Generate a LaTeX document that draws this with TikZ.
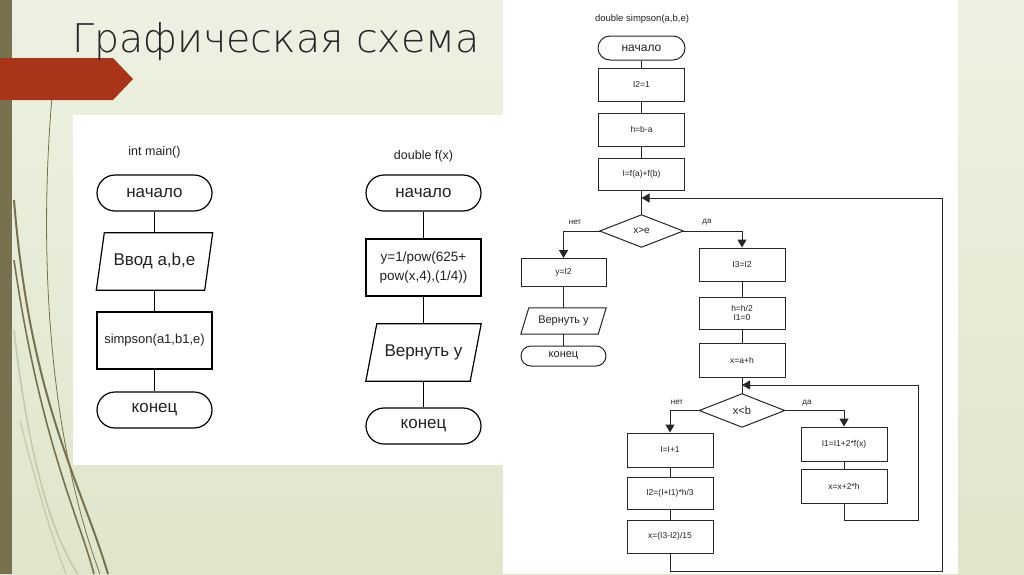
\documentclass[tikz,border=0pt]{standalone}
\usepackage{fontspec}
\setmainfont{Liberation Sans}
\IfFontExistsTF{DejaVu Sans ExtraLight}{\newfontfamily\titlefont{DejaVu Sans ExtraLight}}{\newfontfamily\titlefont{DejaVu Sans}}
\usetikzlibrary{arrows.meta,shapes.misc}
\definecolor{bgtop}{HTML}{EEF1E2}
\definecolor{bgbot}{HTML}{DFE6CB}
\definecolor{olive}{HTML}{78714F}
\definecolor{oliveL}{HTML}{C3CBAA}
\definecolor{redarr}{HTML}{A8341A}
\definecolor{titlegray}{HTML}{262626}
\definecolor{txt}{HTML}{222222}
\newcommand{\iopath}[3][]{\draw[#1] ([xshift=#3]#2.north west) -- (#2.north east) -- ([xshift=-#3]#2.south east) -- (#2.south west) -- cycle;}
\newcommand{\diapath}[2][]{\draw[#1] (#2.west) -- (#2.north) -- (#2.east) -- (#2.south) -- cycle;}
\begin{document}
\begin{tikzpicture}[x=1pt,y=-1pt,
  lnA/.style={draw=black,line width=1.2pt},
  lnB/.style={draw=black!85,line width=1pt},
  boxA/.style={lnA,rectangle,fill=white,inner sep=0pt,align=center,text=txt},
  termA/.style={lnA,rounded rectangle,fill=white,inner sep=0pt,align=center,text=txt},
  ioA/.style={inner sep=0pt,align=center,text=txt},
  boxB/.style={lnB,rectangle,fill=white,inner sep=0pt,align=center,text=txt,font=\fontsize{8.5}{10}\selectfont,minimum width=86pt},
  termB/.style={lnB,rounded rectangle,fill=white,inner sep=0pt,align=center,text=txt,minimum width=86pt},
  ioB/.style={inner sep=0pt,align=center,text=txt,minimum width=86pt},
  dia/.style={inner sep=0pt,align=center,text=txt},
  lbl/.style={inner sep=0pt,text=txt,font=\fontsize{8}{9}\selectfont},
  arr/.style={-{Triangle[width=9pt,length=8pt]}},
  conA/.style={lnA},
  conB/.style={lnB}]
\useasboundingbox (0,0) rectangle (1024,574);
% background
\shade[top color=bgtop,bottom color=bgbot] (0,0) rectangle (1024,574);
\fill[olive] (0,0) rectangle (12,574);
% decorative curves
\draw[oliveL,line width=1.6pt] (14,330) .. controls (30,470) and (55,540) .. (78,574);
\draw[oliveL,line width=1.2pt] (20,420) .. controls (40,500) and (55,545) .. (66,574);
\draw[olive,line width=0.8pt] (52,97) .. controls (38,260) and (50,440) .. (100,574);
\draw[olive,line width=2pt] (14,200) .. controls (30,400) and (80,480) .. (108,574);
\draw[olive,line width=1.6pt] (14,260) .. controls (40,440) and (80,520) .. (94,574);
% red arrow
\fill[redarr] (0,58) -- (113,58) -- (133,79) -- (113,100) -- (0,100) -- cycle;
% title
\node[anchor=base west,inner sep=0pt,text=titlegray,font=\titlefont\fontsize{39.5}{42}\selectfont] (title) at (72,52) {Графическая схема};
% white panels
\fill[white] (73,115) rectangle (503,465);
\fill[white] (503,0) rectangle (958,574);

% ---------- int main()
\node[ioA,font=\fontsize{12.5}{14}\selectfont] (mh) at (154.5,152) {int main()};
\node[termA,minimum width=115pt,minimum height=36pt,font=\fontsize{17}{19}\selectfont] (m1) at (154.5,193) {начало};
\node[ioA,minimum width=116pt,minimum height=57pt,font=\fontsize{17}{19}\selectfont] (m2) at (154.5,261.5) {Ввод a,b,e};
\node[boxA,minimum width=115pt,minimum height=57pt,font=\fontsize{13}{15}\selectfont] (m3) at (154.5,340.5) {simpson(a1,b1,e)};
\node[termA,minimum width=115pt,minimum height=36pt,font=\fontsize{17}{19}\selectfont] (m4) at (154.5,410) {конец};
\iopath[lnA]{m2}{8pt}
\draw[conA] (m1.south) -- (m2.north);
\draw[conA] (m2.south) -- (m3.north);
\draw[conA] (m3.south) -- (m4.north);

% ---------- double f(x)
\node[ioA,font=\fontsize{12.5}{14}\selectfont] (fh) at (423.5,156) {double f(x)};
\node[termA,minimum width=115pt,minimum height=36pt,font=\fontsize{17}{19}\selectfont] (f1) at (423.5,193) {начало};
\node[boxA,minimum width=115pt,minimum height=57pt,font=\fontsize{13.5}{19}\selectfont] (f2) at (423.5,267.5) {y=1/pow(625+\\pow(x,4),(1/4))};
\node[ioA,minimum width=115pt,minimum height=57pt,font=\fontsize{17}{19}\selectfont] (f3) at (423.5,352.5) {Вернуть y};
\node[termA,minimum width=115pt,minimum height=36pt,font=\fontsize{17}{19}\selectfont] (f4) at (423.5,426) {конец};
\iopath[lnA]{f3}{11pt}
\draw[conA] (f1.south) -- (f2.north);
\draw[conA] (f2.south) -- (f3.north);
\draw[conA] (f3.south) -- (f4.north);

% ---------- double simpson(a,b,e)
\node[ioA,font=\fontsize{9.5}{11}\selectfont] (sh) at (642,19) {double simpson(a,b,e)};
\node[termB,minimum width=87pt,minimum height=24pt,font=\fontsize{12}{14}\selectfont] (s1) at (641.5,48) {начало};
\node[boxB,minimum height=33pt] (s2) at (641.5,84.5) {I2=1};
\node[boxB,minimum height=33pt] (s3) at (641.5,129.5) {h=b-a};
\node[boxB,minimum height=32pt] (s4) at (641.5,174) {I=f(a)+f(b)};
\node[dia,minimum width=83pt,minimum height=32pt,font=\fontsize{10}{12}\selectfont] (d1) at (641.5,231) {x>e};
\diapath[lnB]{d1}
% нет branch
\node[boxB,minimum width=85pt,minimum height=28pt] (n1) at (563.5,272.5) {y=I2};
\node[ioB,minimum width=85pt,minimum height=26pt,font=\fontsize{11}{13}\selectfont] (n2) at (563.5,321) {Вернуть y};
\node[termB,minimum width=85pt,minimum height=20pt,font=\fontsize{11}{13}\selectfont] (n3) at (563.5,356) {конец};
\iopath[lnB]{n2}{8pt}
% да branch
\node[boxB,minimum height=33pt] (y1) at (742,264.5) {I3=I2};
\node[boxB,minimum height=32pt,font=\fontsize{8.5}{9.5}\selectfont] (y2) at (742,313) {h=h/2\\I1=0};
\node[boxB,minimum height=34pt] (y3) at (742,360) {x=a+h};
\node[dia,minimum width=85pt,minimum height=33pt,font=\fontsize{11}{13}\selectfont] (d2) at (742,410.5) {x<b};
\diapath[lnB]{d2}
\node[boxB,minimum height=34pt] (p1) at (670,450) {I=I+1};
\node[boxB,minimum height=32pt] (p2) at (670,493) {I2=(I+I1)*h/3};
\node[boxB,minimum height=33pt] (p3) at (670,536.5) {x=(I3-I2)/15};
\node[boxB,minimum height=34pt] (q1) at (844,444) {I1=I1+2*f(x)};
\node[boxB,minimum height=34pt] (q2) at (844,486) {x=x+2*h};
% labels
\node[lbl] (ln1) at (575,222) {нет};
\node[lbl] (la1) at (707,222) {да};
\node[lbl] (ln2) at (677,402) {нет};
\node[lbl] (la2) at (807,403) {да};
% coordinates
\coordinate (j1) at (641.5,198);
\coordinate (j2) at (742,385);
% connectors
\draw[conB] (s1.south) -- (s2.north);
\draw[conB] (s2.south) -- (s3.north);
\draw[conB] (s3.south) -- (s4.north);
\draw[conB] (s4.south) -- (d1.north);
\draw[conB,arr] (d1.west) -| (n1.north);
\draw[conB] (n1.south) -- (n2.north);
\draw[conB] (n2.south) -- (n3.north);
\draw[conB,arr] (d1.east) -| (y1.north);
\draw[conB] (y1.south) -- (y2.north);
\draw[conB] (y2.south) -- (y3.north);
\draw[conB] (y3.south) -- (d2.north);
\draw[conB,arr] (d2.west) -| (p1.north);
\draw[conB] (p1.south) -- (p2.north);
\draw[conB] (p2.south) -- (p3.north);
\draw[conB,arr] (d2.east) -| (q1.north);
\draw[conB] (q1.south) -- (q2.north);
\draw[conB,arr] (q2.south) -- ++(0,17) -| (918,385) -- (j2);
\draw[conB,arr] (p3.south) -- ++(0,18) -| (942,198) -- (j1);
\end{tikzpicture}
\end{document}
